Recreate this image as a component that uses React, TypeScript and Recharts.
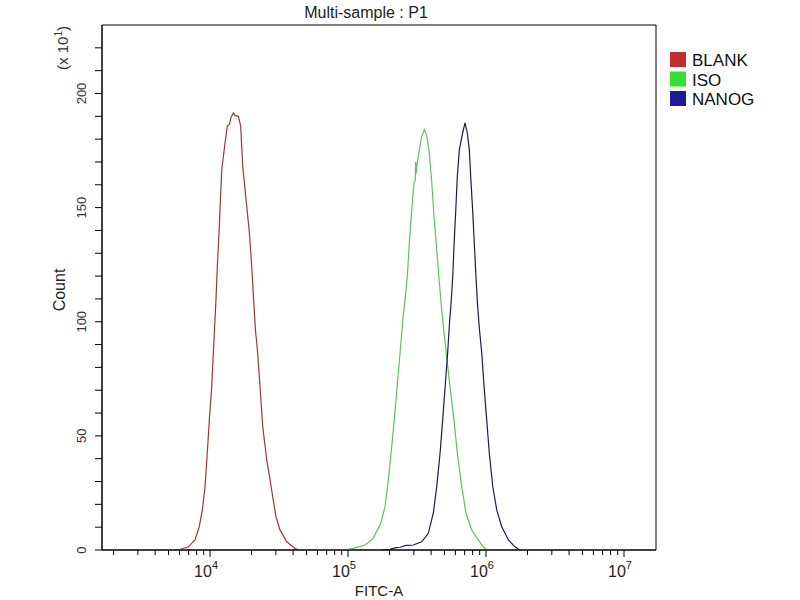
import { Line, LineChart, ReferenceArea, XAxis, YAxis } from "recharts";

// x = log10(FITC-A), y = count (x10)
const blankData = [
  { x: 3.77, y: 0 },
  { x: 3.843, y: 1.4 },
  { x: 3.891, y: 4.4 },
  { x: 3.922, y: 10.2 },
  { x: 3.944, y: 17.5 },
  { x: 3.964, y: 27.8 },
  { x: 3.98, y: 42.5 },
  { x: 3.995, y: 57 },
  { x: 4.012, y: 71.6 },
  { x: 4.024, y: 86.4 },
  { x: 4.043, y: 109.6 },
  { x: 4.053, y: 124.3 },
  { x: 4.065, y: 139 },
  { x: 4.072, y: 149 },
  { x: 4.085, y: 166.7 },
  { x: 4.109, y: 178.4 },
  { x: 4.125, y: 185.7 },
  { x: 4.14, y: 186.4 },
  { x: 4.152, y: 189.5 },
  { x: 4.169, y: 191.5 },
  { x: 4.181, y: 190.4 },
  { x: 4.205, y: 190 },
  { x: 4.222, y: 185.7 },
  { x: 4.237, y: 168 },
  { x: 4.261, y: 153.5 },
  { x: 4.285, y: 139 },
  { x: 4.302, y: 124.3 },
  { x: 4.316, y: 109.6 },
  { x: 4.329, y: 96.5 },
  { x: 4.345, y: 86.4 },
  { x: 4.362, y: 71.6 },
  { x: 4.382, y: 54 },
  { x: 4.411, y: 39.5 },
  { x: 4.435, y: 30.7 },
  { x: 4.454, y: 23.4 },
  { x: 4.478, y: 14.6 },
  { x: 4.507, y: 8.8 },
  { x: 4.556, y: 3.6 },
  { x: 4.616, y: 0.7 },
  { x: 4.64, y: 0 }
];

const isoData = [
  { x: 4.966, y: 0 },
  { x: 5.038, y: 0.7 },
  { x: 5.123, y: 2.2 },
  { x: 5.183, y: 5.1 },
  { x: 5.237, y: 11.7 },
  { x: 5.268, y: 19 },
  { x: 5.292, y: 30.7 },
  { x: 5.312, y: 42.4 },
  { x: 5.335, y: 57 },
  { x: 5.356, y: 71.6 },
  { x: 5.377, y: 86.3 },
  { x: 5.396, y: 100 },
  { x: 5.413, y: 109.6 },
  { x: 5.43, y: 119.9 },
  { x: 5.444, y: 134.5 },
  { x: 5.462, y: 149.1 },
  { x: 5.478, y: 160.8 },
  { x: 5.487, y: 162 },
  { x: 5.49, y: 170 },
  { x: 5.494, y: 165 },
  { x: 5.498, y: 168.1 },
  { x: 5.517, y: 175.4 },
  { x: 5.534, y: 181.3 },
  { x: 5.553, y: 184.2 },
  { x: 5.571, y: 181.3 },
  { x: 5.589, y: 174 },
  { x: 5.607, y: 160.8 },
  { x: 5.623, y: 146.2 },
  { x: 5.643, y: 131.6 },
  { x: 5.662, y: 117 },
  { x: 5.679, y: 105.3 },
  { x: 5.694, y: 96 },
  { x: 5.712, y: 86.3 },
  { x: 5.739, y: 71.6 },
  { x: 5.768, y: 57 },
  { x: 5.792, y: 42.4 },
  { x: 5.824, y: 27.8 },
  { x: 5.855, y: 16.1 },
  { x: 5.896, y: 8.8 },
  { x: 5.944, y: 4.4 },
  { x: 5.98, y: 1.4 },
  { x: 6.005, y: 0 }
];

const nanogData = [
  { x: 5.244, y: 0 },
  { x: 5.304, y: 0.3 },
  { x: 5.34, y: 0.9 },
  { x: 5.377, y: 1.2 },
  { x: 5.42, y: 2.0 },
  { x: 5.473, y: 2.2 },
  { x: 5.534, y: 3.6 },
  { x: 5.582, y: 7.3 },
  { x: 5.618, y: 16.1 },
  { x: 5.643, y: 27.8 },
  { x: 5.667, y: 42.4 },
  { x: 5.686, y: 57 },
  { x: 5.704, y: 71.6 },
  { x: 5.722, y: 86.3 },
  { x: 5.737, y: 100.9 },
  { x: 5.747, y: 108.2 },
  { x: 5.759, y: 119.9 },
  { x: 5.769, y: 134.5 },
  { x: 5.781, y: 149.1 },
  { x: 5.792, y: 163.7 },
  { x: 5.807, y: 175.4 },
  { x: 5.831, y: 182.8 },
  { x: 5.848, y: 187.1 },
  { x: 5.864, y: 182.8 },
  { x: 5.879, y: 175.4 },
  { x: 5.889, y: 163.7 },
  { x: 5.903, y: 149.1 },
  { x: 5.915, y: 134.5 },
  { x: 5.927, y: 119.9 },
  { x: 5.939, y: 107 },
  { x: 5.952, y: 97 },
  { x: 5.969, y: 86.3 },
  { x: 5.986, y: 71.6 },
  { x: 6.005, y: 57 },
  { x: 6.024, y: 42.4 },
  { x: 6.049, y: 27.8 },
  { x: 6.078, y: 17.5 },
  { x: 6.114, y: 10.2 },
  { x: 6.162, y: 4.4 },
  { x: 6.21, y: 1.4 },
  { x: 6.246, y: 0 }
];

const seriesNames = ["BLANK", "ISO", "NANOG"];
const lineColors = ["#9a3a33", "#5cc45c", "#1c1c50"];
const legendColors = ["#c0302a", "#33e033", "#1a1a9a"];

const decades = [4, 5, 6, 7];
const minorSteps = [2, 3, 4, 5, 6, 7, 8, 9];
const xDomain = [3.217, 7.232];
const countTicks = [0, 10, 20, 30, 40, 50, 60, 70, 80, 90, 100, 110, 120, 130, 140, 150, 160, 170, 180, 190, 200, 210, 220];
const countLabels = [0, 50, 100, 150, 200];

const xTicks = [3, 4, 5, 6, 7]
  .flatMap((d) => [d, ...minorSteps.map((k) => d + Math.log10(k))])
  .filter((v) => v >= xDomain[0] && v <= xDomain[1]);

const font = "'Liberation Sans', Arial, sans-serif";

function FitcTick({ x, y, payload }: any) {
  const v = payload.value;
  const major = decades.includes(v);
  return (
    <g>
      <line x1={x} y1={y} x2={x} y2={y + (major ? 7 : 5)} stroke="#000" />
      {major && (
        <text x={x - 4} y={y + 27} textAnchor="middle" fontSize={16} fill="#222" fontFamily={font}>
          10
          <tspan dy={-8} fontSize={11}>
            {v}
          </tspan>
        </text>
      )}
    </g>
  );
}

function CountTick({ x, y, payload }: any) {
  const v = payload.value;
  return (
    <g>
      <line x1={x - 7} y1={y} x2={x} y2={y} stroke="#000" />
      {countLabels.includes(v) && (
        <text
          x={x - 16}
          y={y}
          transform={`rotate(-90 ${x - 16} ${y})`}
          textAnchor="middle"
          fontSize={13}
          fill="#333"
          fontFamily={font}
        >
          {v}
        </text>
      )}
    </g>
  );
}

export default function App() {
  const series = [blankData, isoData, nanogData];
  return (
    <div style={{ position: "absolute", left: 0, top: 0, width: 800, height: 600, background: "#fff" }}>
      <LineChart width={800} height={600} margin={{ top: 25, right: 144, bottom: 10, left: 62 }}>
        <XAxis
          dataKey="x"
          type="number"
          domain={xDomain}
          allowDataOverflow
          ticks={xTicks}
          interval={0}
          height={40}
          tickLine={false}
          tickSize={0}
          tickMargin={0}
          tick={<FitcTick />}
          axisLine={{ stroke: "#000" }}
        />
        <YAxis
          type="number"
          domain={[0, 230]}
          allowDataOverflow
          ticks={countTicks}
          interval={0}
          width={40}
          tickLine={false}
          tickSize={0}
          tickMargin={0}
          tick={<CountTick />}
          axisLine={{ stroke: "#000" }}
        />
        <ReferenceArea x1={xDomain[0]} x2={xDomain[1]} y1={0} y2={230} fill="none" stroke="#000" strokeWidth={1} />
        {series.map((data, i) => (
          <Line
            key={seriesNames[i]}
            data={data}
            dataKey="y"
            name={seriesNames[i]}
            type="linear"
            stroke={lineColors[i]}
            strokeWidth={1.2}
            dot={false}
            isAnimationActive={false}
          />
        ))}
      </LineChart>
      <svg
        width={800}
        height={600}
        style={{ position: "absolute", left: 0, top: 0, pointerEvents: "none" }}
        fontFamily={font}
      >
        <text x={366} y={18} textAnchor="middle" fontSize={16} fill="#222">
          Multi-sample : P1
        </text>
        <text x={68} y={48} transform="rotate(-90 68 48)" textAnchor="middle" fontSize={15} fill="#333">
          (x 10
          <tspan dy={-6} fontSize={10}>
            1
          </tspan>
          <tspan dy={6}>)</tspan>
        </text>
        <text x={65} y={290} transform="rotate(-90 65 290)" textAnchor="middle" fontSize={16} fill="#222">
          Count
        </text>
        <text x={379} y={596} textAnchor="middle" fontSize={15} fill="#222">
          FITC-A
        </text>
        {seriesNames.map((name, i) => (
          <g key={name}>
            <rect x={670} y={52 + i * 19.5} width={16} height={15} fill={legendColors[i]} />
            <text x={692} y={66 + i * 19.5} fontSize={17} fill="#111">
              {name}
            </text>
          </g>
        ))}
      </svg>
    </div>
  );
}
